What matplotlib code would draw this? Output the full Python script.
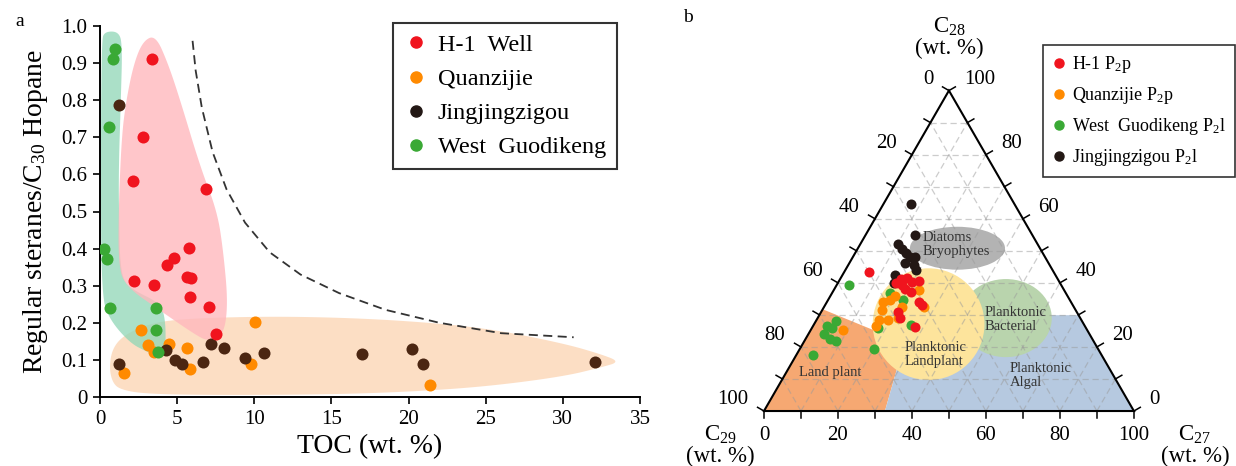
import matplotlib
matplotlib.use('Agg')
import matplotlib.pyplot as plt
import numpy as np
from matplotlib.patches import Polygon, Ellipse, Circle
from matplotlib.lines import Line2D

plt.rcParams['font.family'] = ['Liberation Serif', 'DejaVu Serif']
plt.rcParams['mathtext.fontset'] = 'custom'
plt.rcParams['mathtext.rm'] = 'Liberation Serif'
plt.rcParams['mathtext.it'] = 'Liberation Serif:italic'
plt.rcParams['mathtext.default'] = 'regular'

RED = '#f0141e'
ORANGE = '#ff8a00'
BROWN = '#4b2612'
GREEN = '#3aa935'
BLACK = '#231815'

# ---------------- panel a : TOC vs regular steranes / C30 hopane ----------------
h1_toc = [3.37, 2.77, 2.16, 6.86, 5.77, 4.79, 4.36, 2.18, 3.53, 5.66, 5.88, 5.82, 7.04, 7.52]
h1_ratio = [0.911, 0.70, 0.583, 0.56, 0.402, 0.374, 0.356, 0.312, 0.302, 0.323, 0.32, 0.269, 0.242, 0.17]

qz_toc = [1.53, 2.68, 3.12, 3.49, 4.47, 5.62, 5.82, 10.02, 9.8, 21.4]
qz_ratio = [0.064, 0.181, 0.14, 0.122, 0.142, 0.133, 0.075, 0.203, 0.089, 0.032]

jj_toc = [1.2, 1.2, 4.31, 4.86, 5.29, 6.69, 7.19, 8.06, 9.41, 10.63, 16.95, 20.2, 20.96, 32.1]
jj_ratio = [0.787, 0.089, 0.128, 0.101, 0.089, 0.095, 0.142, 0.133, 0.106, 0.118, 0.115, 0.129, 0.088, 0.095]

wg_toc = [0.94, 0.87, 0.61, 0.28, 0.44, 0.65, 3.6, 3.62, 3.75]
wg_ratio = [0.938, 0.911, 0.729, 0.399, 0.372, 0.239, 0.239, 0.181, 0.122]

# envelope outlines (TOC, ratio)
green_env = [(0.1, 0.96), (0.3, 0.985), (1.2, 0.985), (1.45, 0.95), (1.35, 0.8), (1.2, 0.6),
             (1.25, 0.45), (1.3, 0.37), (1.5, 0.315), (2.16, 0.288), (3.9, 0.253), (4.25, 0.208),
             (4.25, 0.122), (3.7, 0.109), (3.05, 0.122), (1.96, 0.145), (0.65, 0.207), (0.1, 0.27),
             (0.05, 0.6)]
red_env = [(3.6, 0.975), (4.4, 0.9), (5.2, 0.8), (6.5, 0.62), (7.6, 0.5), (8.0, 0.39), (8.3, 0.25),
           (8.0, 0.165), (7.0, 0.15), (6.1, 0.17), (4.0, 0.23), (1.6, 0.3), (1.2, 0.36), (1.2, 0.5),
           (1.4, 0.7), (1.7, 0.8), (2.2, 0.9), (2.8, 0.96)]
orange_env = [(0.6, 0.08), (0.8, 0.13), (1.5, 0.165), (3, 0.195), (5, 0.21), (10, 0.217), (15, 0.215),
              (20, 0.205), (25, 0.186), (30, 0.145), (32.5, 0.115), (33.7, 0.095), (32.5, 0.08),
              (30, 0.055), (25, 0.028), (20, 0.014), (15, 0.007), (8, 0.005), (3, 0.008), (1.3, 0.02),
              (0.8, 0.04)]
trend_toc = [6.0, 6.2, 6.6, 7.3, 8.2, 9.4, 11, 13, 15.5, 18.5, 22, 26, 30.7]
trend_ratio = [0.96, 0.88, 0.78, 0.66, 0.56, 0.47, 0.39, 0.33, 0.28, 0.235, 0.2, 0.172, 0.161]

# ---------------- panel b : C27-C28-C29 regular steranes (wt. %) ----------------
h1_c27 = [6.7, 15.7, 16.4, 18.0, 19.9, 21.6, 17.5, 19.0, 24.8, 26.2, 20.9, 22.3, 27.7, 21.1]
h1_c28 = [43.5, 39.8, 41.2, 41.5, 40.4, 40.7, 39.4, 38.1, 34.1, 33.0, 30.9, 28.9, 26.2, 37.2]

qz_c27 = [22.9, 26.9, 15.2, 16.1, 16.9, 19.4, 21.9, 20.9, 8.8, 17.5, 17.0, 16.8]
qz_c28 = [37.8, 32.6, 34.1, 31.5, 28.4, 28.4, 28.9, 32.6, 25.3, 35.9, 26.6, 34.6]

wg_c27 = [3.4, 5.4, 5.4, 4.2, 6.6, 8.6, 4.6, 18.0, 20.0, 15.7, 20.4, 26.3, 3.8]
wg_c28 = [39.3, 28.2, 25.8, 24.0, 22.4, 21.9, 17.5, 25.8, 19.5, 36.7, 34.6, 26.8, 26.4]

jj_c27 = [7.4, 13.5, 10.3, 12.0, 13.7, 15.5, 16.9, 15.0, 17.7, 19.1, 14.2, 15.1]
jj_c28 = [64.5, 54.9, 52.1, 50.5, 49.3, 48.0, 48.0, 46.2, 45.6, 44.0, 42.4, 40.0]

# source fields (C27, C28)
land_plant = [(0, 0), (0, 31.75), (16.85, 25.3), (27.35, 17.3), (29.35, 13.3), (32.7, 0)]
algal = [(32.7, 0), (100, 0), (70.05, 29.9), (30.05, 29.9), (29.35, 13.3)]
landplant_centre = (30.95, 27.1)
bacterial_centre = (50.9, 29.0)
diatom_centre = (26.9, 50.8)


def chaikin(pts, n=3):
    p = np.asarray(pts, float)
    for _ in range(n):
        q = np.roll(p, -1, axis=0)
        p = np.column_stack([0.75 * p + 0.25 * q, 0.25 * p + 0.75 * q]).reshape(-1, 2)
    return p


def tern(c27, c28):
    c27 = np.asarray(c27, float)
    c28 = np.asarray(c28, float)
    return c27 + c28 / 2.0, c28 * np.sqrt(3) / 2.0


fig = plt.figure(figsize=(12.36, 4.66), dpi=100)

# ---- panel a ----
ax = fig.add_axes([100 / 1236, 69 / 466, 540 / 1236, 371 / 466])
ax.add_patch(Polygon(chaikin(orange_env), closed=True, fc='#fcd6b6', ec='none', alpha=0.8, zorder=1))
ax.add_patch(Polygon(chaikin(green_env), closed=True, fc='#8fd6b6', ec='none', alpha=0.75, zorder=2))
ax.add_patch(Polygon(chaikin(red_env), closed=True, fc='#ffb8bd', ec='none', alpha=0.8, zorder=3))
ax.plot(trend_toc, trend_ratio, ls=(0, (5, 3)), color='#333333', lw=1.3, zorder=4)

ms = 75
ax.scatter(qz_toc, qz_ratio, s=ms, color=ORANGE, lw=0, zorder=5)
ax.scatter(jj_toc, jj_ratio, s=ms, color=BROWN, lw=0, zorder=5)
ax.scatter(wg_toc, wg_ratio, s=ms, color=GREEN, lw=0, zorder=5)
ax.scatter(h1_toc, h1_ratio, s=ms, color=RED, lw=0, zorder=5)

ax.set_xlim(0, 35)
ax.set_ylim(0, 1.0)
ax.set_xticks(np.arange(0, 36, 5))
ax.set_yticks(np.round(np.arange(0, 1.01, 0.1), 1))
ax.set_yticklabels(['0'] + ['%.1f' % v for v in np.arange(0.1, 1.01, 0.1)])
for s in ['top', 'right']:
    ax.spines[s].set_visible(False)
for s in ['left', 'bottom']:
    ax.spines[s].set_linewidth(1.4)
ax.tick_params(direction='out', length=5, width=1.2, labelsize=15, pad=4)
ax.set_xlabel('TOC (wt. %)', fontsize=20, labelpad=4)
ax.set_ylabel('Regular steranes/C$_{30}$ Hopane', fontsize=20, labelpad=8)

hand_a = [Line2D([], [], marker='o', ls='none', color=c, markersize=8) for c in [RED, ORANGE, BLACK, GREEN]]
leg = ax.legend(hand_a, ['H-1  Well', 'Quanzijie', 'Jingjingzigou', 'West  Guodikeng'],
                loc='upper left', bbox_to_anchor=(393 / 1236, 1 - 23 / 466), bbox_transform=fig.transFigure,
                fontsize=17.5, frameon=True, fancybox=False, borderaxespad=0, handletextpad=0.4,
                handlelength=1.0, labelspacing=0.5, borderpad=0.45)
leg.get_frame().set_edgecolor('black')
leg.get_frame().set_linewidth(1.5)

fig.text(15 / 1236, 1 - 22 / 466, 'a', fontsize=14, va='center')

# ---- panel b : ternary ----
bx = fig.add_axes([680 / 1236, 0, 556 / 1236, 1])
bx.set_xlim(-22.7, 127.6)
bx.set_ylim(-14.86, 111.08)
bx.axis('off')

h = np.sqrt(3) / 2
tri = Polygon([(0, 0), (100, 0), (50, 100 * h)], closed=True, fc='none', ec='none')
bx.add_patch(tri)

patches = [
    Polygon(np.column_stack(tern(*zip(*land_plant))), closed=True, fc='#f6a872', ec='none'),
    Polygon(np.column_stack(tern(*zip(*algal))), closed=True, fc='#b6c9e0', ec='none'),
    Ellipse(np.column_stack(tern(*bacterial_centre))[0], 24.8, 21.1, fc='#b9d4ad', ec='none'),
    Circle(np.column_stack(tern(*landplant_centre))[0], 15.1, fc='#fde49c', ec='none'),
    Ellipse(np.column_stack(tern(*diatom_centre))[0], 25.7, 11.6, fc='#b3b3b3', ec='none'),
]
for p in patches:
    bx.add_patch(p)
    p.set_clip_path(tri)

# dashed grid
for k in range(10, 100, 10):
    for (a0, b0), (a1, b1) in [((0, k), (100 - k, k)), ((k, 0), (k, 100 - k)), ((100 - k, 0), (0, 100 - k))]:
        x, y = tern([a0, a1], [b0, b1])
        bx.plot(x, y, color='#9a9a9a', alpha=0.5, lw=0.9, ls=(0, (5, 3)), zorder=2)

bx.plot([0, 100, 50, 0], [0, 0, 100 * h, 0], color='black', lw=1.5, zorder=3, solid_joinstyle='miter')

# ticks and labels
tl = 2.0
c30, s30 = np.cos(np.pi / 6), np.sin(np.pi / 6)
for k in range(0, 101, 10):
    # bottom (C27)
    bx.plot([k, k], [0, -tl], color='black', lw=1.1, zorder=3)
    # left (C29), outward normal 150 deg
    x, y = tern(0, 100 - k)
    bx.plot([x, x - tl * c30], [y, y + tl * s30], color='black', lw=1.1, zorder=3)
    # right (C28), outward normal 30 deg
    x, y = tern(100 - k, k)
    bx.plot([x, x + tl * c30], [y, y + tl * s30], color='black', lw=1.1, zorder=3)
    if k % 20 == 0:
        bx.text(k, -6.7, str(k), ha='center', va='center', fontsize=15)
        x, y = tern(0, 100 - k)
        bx.text(x - 4.2, y + 3.0, str(k), ha='right', va='center', fontsize=15)
        x, y = tern(100 - k, k)
        bx.text(x + 4.2, y + 3.0, str(k), ha='left', va='center', fontsize=15)

bx.text(50, 101.0, 'C$_{28}$\n(wt. %)', ha='center', va='center', fontsize=16.5, linespacing=0.95)
bx.text(-11.8, -9.3, 'C$_{29}$\n(wt. %)', ha='center', va='center', fontsize=16.5, linespacing=0.95)
bx.text(116.5, -9.3, 'C$_{27}$\n(wt. %)', ha='center', va='center', fontsize=16.5, linespacing=0.95)

fs = 10.5
bx.text(43.0, 45.1, 'Diatoms\nBryophytes', fontsize=fs, va='center', ha='left', color='#333333', linespacing=1.1, zorder=4)
bx.text(59.7, 24.7, 'Planktonic\nBacterial', fontsize=fs, va='center', ha='left', color='#333333', linespacing=1.1, zorder=4)
bx.text(38.1, 15.4, 'Planktonic\nLandplant', fontsize=fs, va='center', ha='left', color='#333333', linespacing=1.1, zorder=4)
bx.text(66.5, 9.6, 'Planktonic\nAlgal', fontsize=fs, va='center', ha='left', color='#333333', linespacing=1.1, zorder=4)
bx.text(9.5, 10.4, 'Land plant', fontsize=fs, va='center', ha='left', color='#333333', zorder=4)

msb = 52
for c27, c28, col in [(wg_c27, wg_c28, GREEN), (qz_c27, qz_c28, ORANGE),
                      (jj_c27, jj_c28, BLACK), (h1_c27, h1_c28, RED)]:
    x, y = tern(c27, c28)
    bx.scatter(x, y, s=msb, color=col, lw=0, zorder=5)

hand_b = [Line2D([], [], marker='o', ls='none', color=c, markersize=6.5) for c in [RED, ORANGE, GREEN, BLACK]]
legb = bx.legend(hand_b, ['H-1 P$_2$p', 'Quanzijie P$_2$p', 'West  Guodikeng P$_2$l', 'Jingjingzigou P$_2$l'],
                 loc='upper left', bbox_to_anchor=(1043 / 1236, 1 - 45 / 466), bbox_transform=fig.transFigure,
                 fontsize=13, frameon=True, fancybox=False, borderaxespad=0, handletextpad=0.3,
                 handlelength=0.8, labelspacing=0.55, borderpad=0.5)
legb.get_frame().set_edgecolor('black')
legb.get_frame().set_linewidth(1.2)

fig.text(683 / 1236, 1 - 17 / 466, 'b', fontsize=14, va='center')

fig.savefig('out.png', dpi=100)
